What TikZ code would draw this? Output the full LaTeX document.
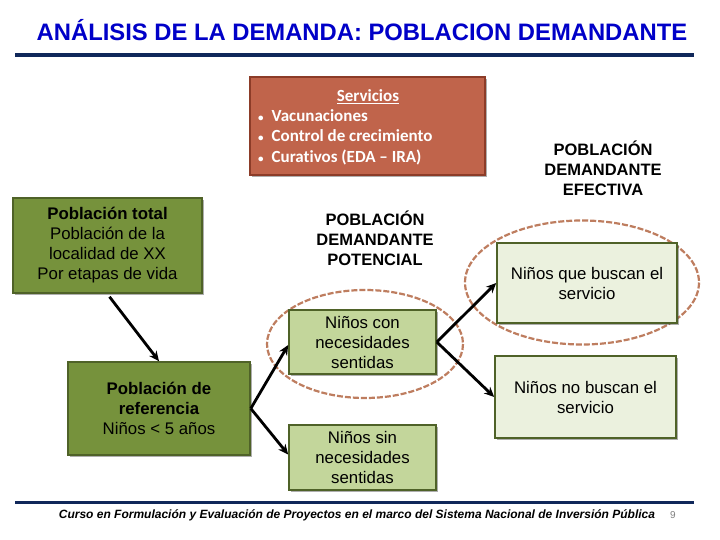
\documentclass[tikz,border=0pt]{standalone}
\usepackage{fontspec}
\setmainfont{Liberation Sans}
\newfontfamily\calib[Ligatures=NoCommon]{Carlito}
\usetikzlibrary{arrows.meta,shadows}
\definecolor{titleblue}{RGB}{0,0,200}
\definecolor{navy}{RGB}{16,40,90}
\definecolor{terra}{RGB}{192,100,75}
\definecolor{terradark}{RGB}{140,60,40}
\definecolor{olive}{RGB}{118,146,60}
\definecolor{olivedark}{RGB}{79,98,40}
\definecolor{lightg}{RGB}{195,214,155}
\definecolor{paleg}{RGB}{235,241,222}
\definecolor{ellc}{RGB}{190,125,95}
\tikzset{
  x=1pt,y=-1pt,
  box/.style={draw=olivedark,line width=1.6pt,inner sep=2pt,align=center,
    font=\fontsize{16.8}{20}\selectfont,
    drop shadow={shadow xshift=2pt,shadow yshift=-2pt,opacity=0.45,fill=black!70}},
  darkbox/.style={box,fill=olive},
  midbox/.style={box,fill=lightg},
  palebox/.style={box,fill=paleg},
  headlbl/.style={align=center,font=\bfseries\fontsize{16.5}{20}\selectfont},
  ell/.style={draw=ellc,line width=2.2pt,dash pattern=on 6pt off 2pt},
  arr/.style={line width=2.8pt,-{Stealth[length=10pt,width=9pt]}},
  servline/.style={anchor=west,text=white,font=\calib\bfseries\fontsize{17}{20}\selectfont,inner sep=0pt}
}
\begin{document}
\begin{tikzpicture}
\useasboundingbox (0,0) rectangle (720,540);
\fill[white] (0,0) rectangle (720,540);
% title
\node[text=titleblue,font=\bfseries\fontsize{23.8}{26}\selectfont] (title) at (362,30) {ANÁLISIS DE LA DEMANDA: POBLACION DEMANDANTE};
\draw[navy,line width=4pt] (15,55) -- (694,55);
% ellipses
\draw[ell] (582,282.5) ellipse [x radius=117,y radius=62];
\draw[ell] (365,344) ellipse [x radius=98,y radius=54];
% servicios
\node[draw=terradark,line width=1.2pt,fill=terra,minimum width=235pt,minimum height=98pt,
  drop shadow={shadow xshift=2pt,shadow yshift=-2pt,opacity=0.45,fill=black!70}] (serv) at (367.5,126) {};
\node[text=white,font=\calib\bfseries\fontsize{17}{20}\selectfont] (servt) at (368,97) {\underline{Servicios}};
\node[servline] (s1) at (258,116) {{\fontsize{11}{12}\selectfont•}\hspace{8pt}Vacunaciones};
\node[servline] (s2) at (258,136) {{\fontsize{11}{12}\selectfont•}\hspace{8pt}Control de crecimiento};
\node[servline] (s3) at (258,157) {{\fontsize{11}{12}\selectfont•}\hspace{8pt}Curativos (EDA – IRA)};
% labels
\node[headlbl] (efec) at (603,168) {POBLACIÓN\\DEMANDANTE\\EFECTIVA};
\node[headlbl] (pot) at (375,238) {POBLACIÓN\\DEMANDANTE\\POTENCIAL};
% boxes
\node[darkbox,minimum width=189pt,minimum height=95pt] (ptotal) at (107.5,245.5) {\textbf{Población total}\\Población de la\\localidad de XX\\Por etapas de vida};
\node[darkbox,minimum width=182pt,minimum height=93pt] (pref) at (159,408.5) {\textbf{Población de}\\\textbf{referencia}\\Niños < 5 años};
\node[midbox,minimum width=147pt,minimum height=64pt] (ncon) at (362.5,342) {Niños con\\necesidades\\sentidas};
\node[midbox,minimum width=147pt,minimum height=65pt] (nsin) at (362.5,457.5) {Niños sin\\necesidades\\sentidas};
\node[palebox,minimum width=180pt,minimum height=80pt] (nque) at (587,283) {Niños que buscan el\\servicio};
\node[palebox,minimum width=181pt,minimum height=82pt] (nno) at (585.5,397) {Niños no buscan el\\servicio};
% arrows
\draw[arr] ([xshift=2pt,yshift=-3pt]ptotal.south) -- (pref.north);
\draw[arr] (pref.east) -- ([yshift=-3pt]ncon.west);
\draw[arr] (pref.east) -- ([yshift=3pt]nsin.west);
\draw[arr] (ncon.east) -- (nque.west);
\draw[arr] (ncon.east) -- (nno.west);
% footer
\draw[navy,line width=3pt] (15,502) -- (694,502);
\node[font=\bfseries\itshape\fontsize{12}{14}\selectfont] (foot) at (357,515) {Curso en Formulación y Evaluación de Proyectos en el marco del Sistema Nacional de Inversión Pública};
\node[text=gray,font=\fontsize{10}{12}\selectfont] (pg) at (673,515) {9};
\end{tikzpicture}
\end{document}
